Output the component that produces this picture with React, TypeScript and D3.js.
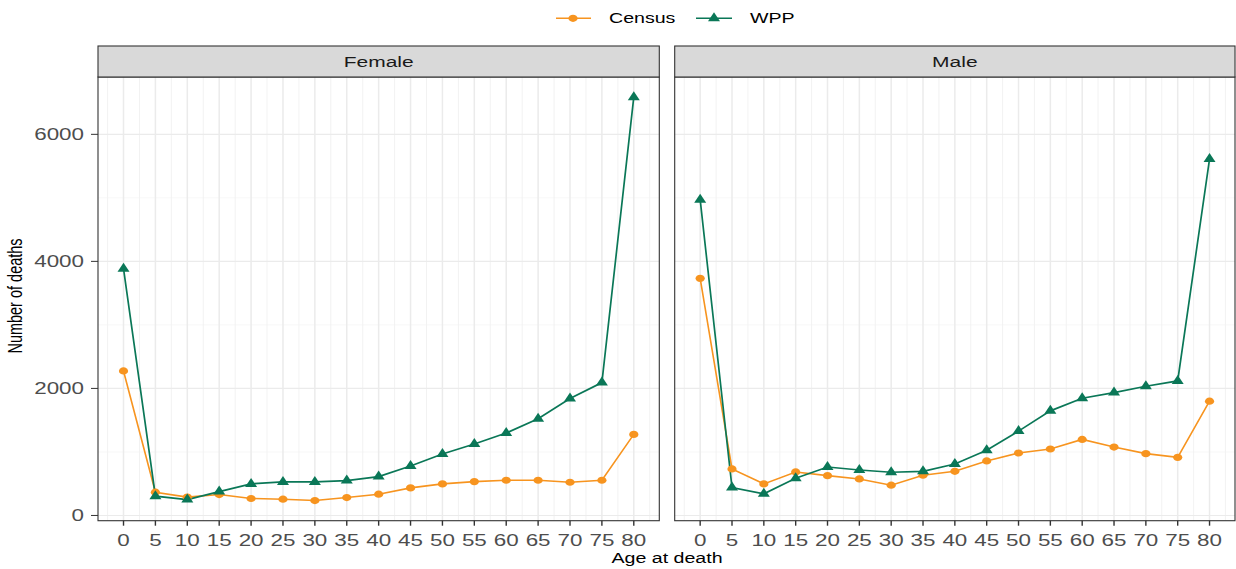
import React from "react";
import * as d3 from "d3";

const ages = [0, 5, 10, 15, 20, 25, 30, 35, 40, 45, 50, 55, 60, 65, 70, 75, 80];
const femaleCensus = [2275, 366, 288, 329, 267, 256, 235, 282, 335, 434, 497, 533, 554, 554, 523, 554, 1276];
const femaleWPP = [3885, 303, 251, 376, 497, 528, 528, 549, 612, 779, 967, 1124, 1297, 1522, 1841, 2092, 6585];
const maleCensus = [3733, 732, 497, 685, 627, 575, 476, 633, 695, 858, 983, 1046, 1197, 1077, 973, 915, 1799];
const maleWPP = [4972, 439, 340, 586, 763, 716, 680, 695, 810, 1025, 1328, 1647, 1846, 1935, 2034, 2118, 5611];
const yTicks = [0, 2000, 4000, 6000];
const yMinor = [1000, 3000, 5000];
const panelNames = ["Female", "Male"];
const seriesNames = ["Census", "WPP"];

const W = 1236;
const H = 569;
const S = 1.4; // horizontal stretch of the original image
const FONT = "'Liberation Sans', Arial, Helvetica, sans-serif";
const ORANGE = "#F7941F";
const GREEN = "#0A7757";
const panelTop = 77;
const panelBottom = 520.7;
const stripTop = 46;
const panelsX = [
  [98, 659.3],
  [674.7, 1235],
];

const allVals = [...femaleCensus, ...femaleWPP, ...maleCensus, ...maleWPP];
const [vmin, vmax] = d3.extent(allVals) as [number, number];
const pad = (vmax - vmin) * 0.05;
const y = d3.scaleLinear().domain([vmin - pad, vmax + pad]).range([panelBottom, panelTop]);

const triPath = (cx: number, cy: number, w = 12, h = 9) =>
  `M${cx},${cy - (2 * h) / 3}L${cx + w / 2},${cy + h / 3}L${cx - w / 2},${cy + h / 3}Z`;

function T({ x, y, children, anchor = "middle", size = 15, fill = "#1A1A1A", rotate = 0 }: any) {
  return (
    <text
      transform={`translate(${x},${y}) scale(${S},1)${rotate ? ` rotate(${rotate})` : ""}`}
      textAnchor={anchor}
      fontFamily={FONT}
      fontSize={size}
      fill={fill}
    >
      {children}
    </text>
  );
}

function Panel({ idx, census, wpp }: { idx: number; census: number[]; wpp: number[] }) {
  const [x0, x1] = panelsX[idx];
  const x = d3.scaleLinear().domain([-4, 84]).range([x0, x1]);
  const majorX = ages;
  const minorX = d3.range(-2.5, 84, 5);
  const line = d3
    .line<number>()
    .x((_, i) => x(ages[i]))
    .y((d) => y(d));
  return (
    <g>
      <rect x={x0} y={panelTop} width={x1 - x0} height={panelBottom - panelTop} fill="#fff" />
      {yMinor.map((v) => (
        <line key={"ym" + v} x1={x0} x2={x1} y1={y(v)} y2={y(v)} stroke="#F1F1F1" strokeWidth={0.6} />
      ))}
      {minorX.map((v) => (
        <line key={"xm" + v} x1={x(v)} x2={x(v)} y1={panelTop} y2={panelBottom} stroke="#F1F1F1" strokeWidth={0.9} />
      ))}
      {yTicks.map((v) => (
        <line key={"yM" + v} x1={x0} x2={x1} y1={y(v)} y2={y(v)} stroke="#EBEBEB" strokeWidth={1.1} />
      ))}
      {majorX.map((v) => (
        <line key={"xM" + v} x1={x(v)} x2={x(v)} y1={panelTop} y2={panelBottom} stroke="#EBEBEB" strokeWidth={1.5} />
      ))}
      <path d={line(census) || ""} fill="none" stroke={ORANGE} strokeWidth={1.6} />
      <path d={line(wpp) || ""} fill="none" stroke={GREEN} strokeWidth={1.7} />
      {census.map((v, i) => (
        <ellipse key={"c" + i} cx={x(ages[i])} cy={y(v)} rx={4.6} ry={3.6} fill={ORANGE} />
      ))}
      {wpp.map((v, i) => (
        <path key={"w" + i} d={triPath(x(ages[i]), y(v))} fill={GREEN} />
      ))}
      <rect
        x={x0}
        y={panelTop}
        width={x1 - x0}
        height={panelBottom - panelTop}
        fill="none"
        stroke="#333333"
        strokeWidth={1.1}
      />
      <rect x={x0} y={stripTop} width={x1 - x0} height={panelTop - stripTop} fill="#D9D9D9" stroke="#333333" strokeWidth={1.1} />
      <T x={(x0 + x1) / 2} y={66.8} size={15}>
        {panelNames[idx]}
      </T>
      {majorX.map((v) => (
        <g key={"xt" + v}>
          <line x1={x(v)} x2={x(v)} y1={panelBottom} y2={panelBottom + 5} stroke="#333333" strokeWidth={1.4} />
          <T x={x(v)} y={546} size={16} fill="#4D4D4D">
            {v}
          </T>
        </g>
      ))}
    </g>
  );
}

export default function App() {
  return (
    <svg width={W} height={H} style={{ position: "absolute", left: 0, top: 0, background: "#fff" }}>
      <rect width={W} height={H} fill="#fff" />
      <Panel idx={0} census={femaleCensus} wpp={femaleWPP} />
      <Panel idx={1} census={maleCensus} wpp={maleWPP} />
      {yTicks.map((v) => (
        <g key={"yt" + v}>
          <line x1={91} x2={98} y1={y(v)} y2={y(v)} stroke="#333333" strokeWidth={1} />
          <T x={84} y={y(v) + 5.7} anchor="end" size={16} fill="#4D4D4D">
            {v}
          </T>
        </g>
      ))}
      <T x={667} y={562.5} size={14} fill="#000">
        Age at death
      </T>
      <T x={22} y={296} size={14.5} fill="#000" rotate={-90}>
        Number of deaths
      </T>
      {/* legend */}
      <g>
        <line x1={556} x2={591} y1={18.3} y2={18.3} stroke={ORANGE} strokeWidth={1.6} />
        <ellipse cx={573} cy={18.3} rx={4.6} ry={3.6} fill={ORANGE} />
        <T x={609} y={23.3} anchor="start" size={14} fill="#000">
          {seriesNames[0]}
        </T>
        <line x1={696} x2={732} y1={18.3} y2={18.3} stroke={GREEN} strokeWidth={1.6} />
        <path d={triPath(714, 18.3)} fill={GREEN} />
        <T x={750} y={23.3} anchor="start" size={14} fill="#000">
          {seriesNames[1]}
        </T>
      </g>
    </svg>
  );
}
